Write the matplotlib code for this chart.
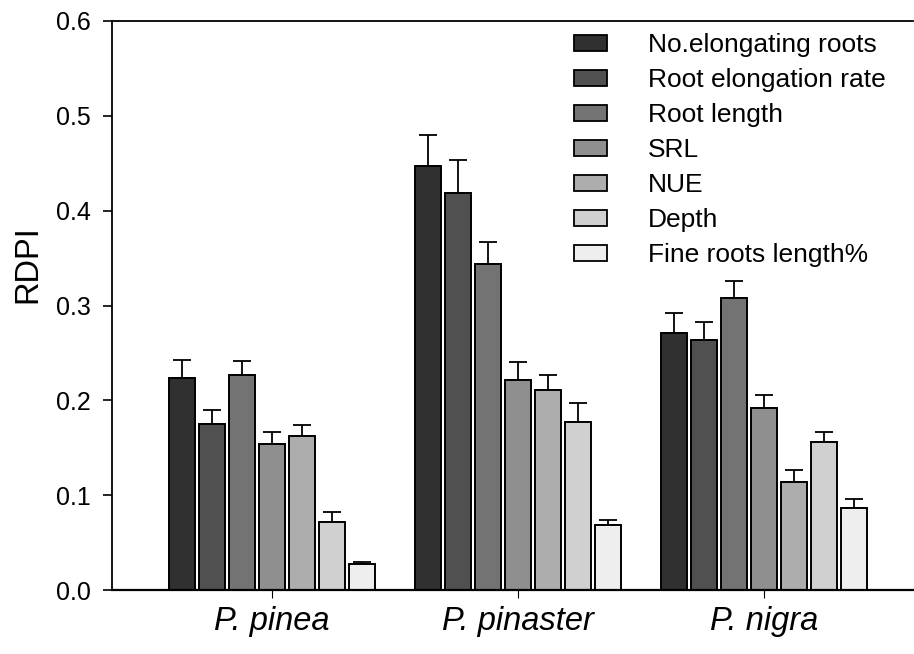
import numpy as np
import matplotlib
matplotlib.use("Agg")
import matplotlib.pyplot as plt
from matplotlib.patches import Patch

plt.rcParams['font.family'] = ['Liberation Sans', 'DejaVu Sans']

species = ["P. pinea", "P. pinaster", "P. nigra"]
traits = ["No.elongating roots", "Root elongation rate", "Root length", "SRL",
          "NUE", "Depth", "Fine roots length%"]

# RDPI mean per trait (rows) for each species (columns)
rdpi = [
    [0.224, 0.447, 0.271],
    [0.175, 0.419, 0.264],
    [0.227, 0.344, 0.308],
    [0.154, 0.221, 0.192],
    [0.162, 0.211, 0.114],
    [0.072, 0.177, 0.156],
    [0.027, 0.069, 0.086],
]
# standard errors (upper whiskers only)
rdpi_se = [
    [0.019, 0.033, 0.021],
    [0.015, 0.034, 0.019],
    [0.015, 0.023, 0.018],
    [0.013, 0.019, 0.014],
    [0.012, 0.016, 0.013],
    [0.010, 0.020, 0.011],
    [0.003, 0.005, 0.010],
]
fills = ["#303030", "#505050", "#737373", "#8f8f8f", "#adadad", "#d0d0d0", "#eeeeee"]

fig = plt.figure(figsize=(9.14, 6.54), dpi=100)
ax = fig.add_axes([112 / 914, 64 / 654, 801 / 914, 569 / 654])

x = np.arange(len(species))
pitch = 0.122
width = 0.103
n = len(traits)
for i, (name, vals, errs, col) in enumerate(zip(traits, rdpi, rdpi_se, fills)):
    pos = x + (i - (n - 1) / 2) * pitch
    ax.bar(pos, vals, width, color=col, edgecolor="black", linewidth=1.4,
           label=name, zorder=2)
    ax.errorbar(pos, vals, yerr=[np.zeros(len(errs)), errs], fmt="none",
                ecolor="black", elinewidth=1.3, capsize=6.5, capthick=1.3, zorder=1)

ax.set_xlim(-0.650, 2.606)
ax.set_ylim(0, 0.6)
ax.set_yticks(np.arange(0, 0.61, 0.1))
ax.set_yticklabels([f"{v:.1f}" for v in np.arange(0, 0.61, 0.1)], fontsize=18)
ax.set_xticks(x)
ax.set_xticklabels(species, fontsize=23.5, style="italic")
ax.tick_params(axis="y", direction="out", length=6.5, width=1.2, pad=9)
ax.tick_params(axis="x", direction="out", length=5.5, width=0.8, pad=6)

ax.spines["right"].set_visible(False)
for s in ["left", "bottom", "top"]:
    ax.spines[s].set_linewidth(1.3)
ax.spines["bottom"].set_linewidth(1.6)

ax.set_ylabel("RDPI", fontsize=23.5)
ax.yaxis.set_label_coords(-0.086, 0.573)

handles = [Patch(facecolor=c, edgecolor="black", linewidth=1.3) for c in fills]
ax.legend(handles, traits, loc="upper left",
          bbox_to_anchor=((574 - 112) / 801, (590 - 33) / 569),
          frameon=False, fontsize=19, borderpad=0, borderaxespad=0,
          handlelength=1.24, handleheight=0.57, handletextpad=1.56,
          labelspacing=0.42)

fig.savefig("out.png", dpi=100)
